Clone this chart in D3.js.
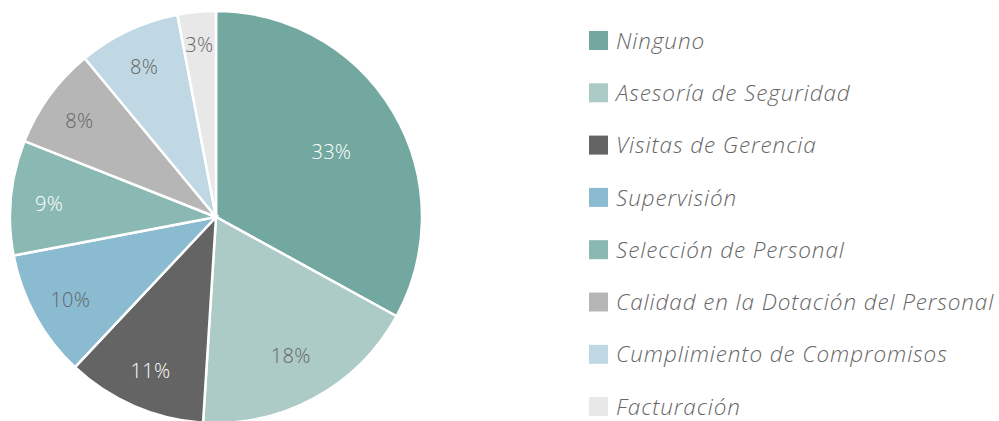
<!DOCTYPE html>
<html>
<head>
<meta charset="utf-8">
<script src="https://cdn.jsdelivr.net/npm/d3@7"></script>
<style>
  body { margin: 0; background: #fff; }
  .sliceText { font-family: "Open Sans", sans-serif; font-weight: 300; font-size: 20px; letter-spacing: 0.3px; }
  .legendText { font-family: "Open Sans", sans-serif; font-weight: 300; font-style: italic; font-size: 22.5px; letter-spacing: 0.9px; fill: #666; }
</style>
</head>
<body>
<div id="chart"></div>
<script>
// Data
let categories = ["Ninguno", "Asesoría de Seguridad", "Visitas de Gerencia", "Supervisión",
  "Selección de Personal", "Calidad en la Dotación del Personal", "Cumplimiento de Compromisos", "Facturación"];
let shares = [33, 18, 11, 10, 9, 8, 8, 3];
let sliceColors = ["#73a8a0", "#adcbc6", "#646464", "#8bbbd1", "#8ab8b3", "#b6b6b6", "#bfd8e3", "#e8e8e8"];
let labelColors = ["#ffffff", "#666666", "#ffffff", "#666666", "#ffffff", "#666666", "#666666", "#666666"];

let svgWidth = 999;
let svgHeight = 421;

let svg = d3.select("#chart")
  .append("svg")
  .attr("width", svgWidth)
  .attr("height", svgHeight);

let radius = 206;
let pieGroup = svg.append("g")
  .attr("transform", "translate(216, 217)");

let pie = d3.pie().sort(null).value(d => d);
let arc = d3.arc().innerRadius(0).outerRadius(radius);
let arcs = pie(shares);

pieGroup.selectAll("path")
  .data(arcs)
  .enter()
  .append("path")
  .attr("d", arc)
  .attr("fill", (d, i) => sliceColors[i])
  .attr("stroke", "#fff")
  .attr("stroke-width", 2.5);

// labels sit further out for the smaller slices
pieGroup.selectAll("text")
  .data(arcs)
  .enter()
  .append("text")
  .attr("class", "sliceText")
  .attr("transform", d => {
    let a = (d.startAngle + d.endAngle) / 2;
    let r = radius * (0.875 - 0.0068 * d.value);
    return `translate(${Math.sin(a) * r}, ${-Math.cos(a) * r})`;
  })
  .attr("text-anchor", "middle")
  .attr("dy", "0.5em")
  .attr("fill", (d, i) => labelColors[i])
  .text(d => d.value + "%");

// Legend
let legend = svg.append("g")
  .attr("transform", "translate(589, 40.5)");

let rows = legend.selectAll("g")
  .data(categories)
  .enter()
  .append("g")
  .attr("transform", (d, i) => `translate(0, ${i * 52.3})`);

rows.append("rect")
  .attr("x", 0)
  .attr("y", -9.5)
  .attr("width", 19)
  .attr("height", 19)
  .attr("fill", (d, i) => sliceColors[i]);

rows.append("text")
  .attr("class", "legendText")
  .attr("x", 27)
  .attr("dy", "0.36em")
  .text(d => d);
</script>
</body>
</html>
